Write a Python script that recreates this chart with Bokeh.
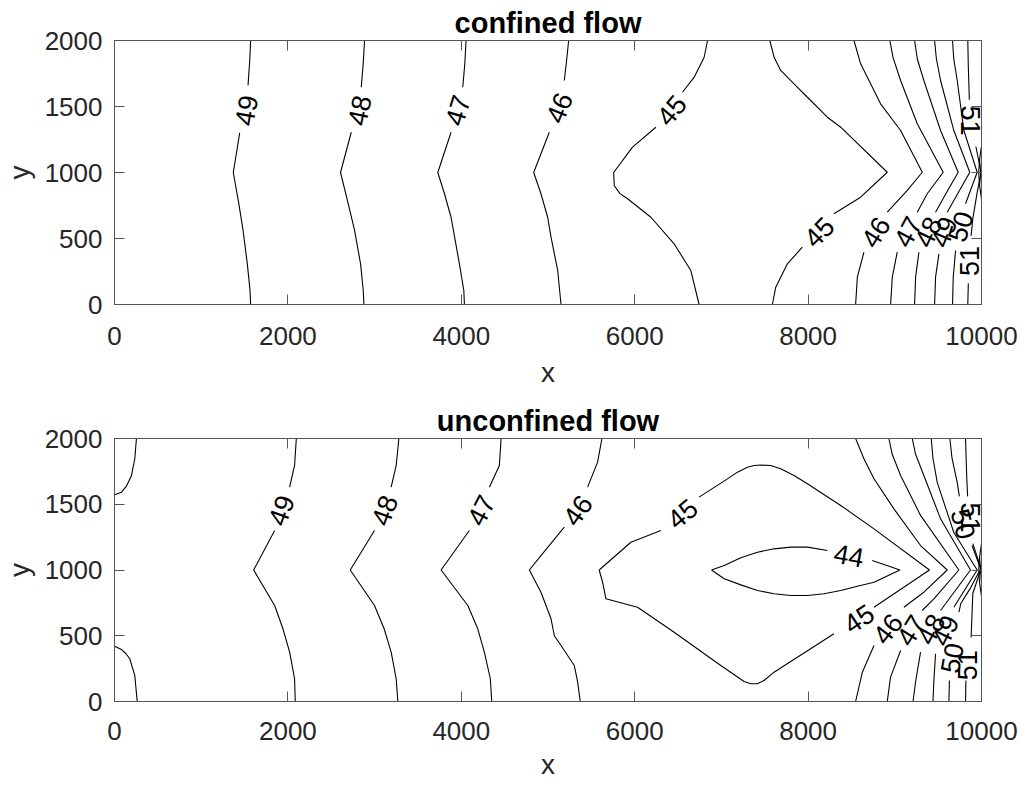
from bokeh.plotting import figure
from bokeh.models import Range1d, FixedTicker, LinearAxis
from bokeh.layouts import column
from bokeh.core.properties import value
from bokeh.embed import file_html
from bokeh.resources import INLINE

nan = float("nan")

x_ticks = [0, 2000, 4000, 6000, 8000, 10000]
y_ticks = [0, 500, 1000, 1500, 2000]

# ---------------- confined flow: contour lines (nan = gap for label) ----------------
conf_levels = [49, 48, 47, 46, 45, 45, 46, 47, 48, 49, 50, 51, 52, 53]
conf_xs = [
    [1570, 1560, 1540, nan, 1444, 1370, 1430, 1483, 1532, 1563, 1570],
    [2884, 2868, 2846, nan, 2731, 2607, 2690, 2769, 2838, 2869, 2877],
    [4055, 4040, 4017, nan, 3882, 3729, 3806, 3882, 3978, 4029, 4036],
    [5238, 5215, 5188, nan, 5015, 4835, 4919, 4996, 5035, 5112, 5150],
    [6840, 6801, 6686, 6551, nan, 6244, 5975, 5757, 5765, 5830, 5918, 6187, 6455, 6647, 6743],
    [7558, 7608, 7684, 7838, 7992, 8222, 8376, 8913, 8606, 8298, nan, 7934, 7761, 7627, 7588],
    [8529, 8606, 8760, 8836, 9067, 9317, 9144, 8913, nan, 8644, 8568, 8548],
    [8943, 8980, 9067, 9259, 9558, 9374, 9259, nan, 9028, 8971, 8952],
    [9228, 9260, 9335, 9528, 9731, 9566, 9470, nan, 9278, 9240, 9228],
    [9459, 9480, 9528, 9681, 9865, 9681, 9605, nan, 9509, 9470, 9459],
    [9666, 9680, 9720, 9797, 9950, 9816, nan, 9701, 9674, 9666],
    [9842, 9848, 9860, nan, 9935, 9995, 9950, 9900, 9880, nan, 9848, 9842],
    [10000, 9978, 9968, 9978, 10000],
    [10000, 9988, 10000],
]
conf_ys = [
    [2000, 1850, 1660, nan, 1300, 1000, 780, 561, 308, 106, 0],
    [2000, 1820, 1646, nan, 1305, 1000, 780, 561, 308, 106, 0],
    [2000, 1820, 1646, nan, 1305, 1000, 839, 661, 308, 106, 0],
    [2000, 1850, 1697, nan, 1305, 1000, 839, 661, 510, 258, 0],
    [2000, 1873, 1722, 1608, nan, 1343, 1192, 1000, 900, 840, 801, 661, 460, 258, 0],
    [2000, 1873, 1773, 1672, 1570, 1419, 1343, 1002, 813, 687, nan, 434, 308, 131, 0],
    [2000, 1823, 1621, 1520, 1318, 1002, 864, 699, nan, 396, 207, 0],
    [2000, 1870, 1697, 1369, 1002, 839, 699, nan, 396, 207, 0],
    [2000, 1860, 1697, 1318, 1002, 813, 699, nan, 396, 207, 0],
    [2000, 1860, 1697, 1318, 1002, 788, 699, nan, 384, 207, 0],
    [2000, 1860, 1697, 1318, 1002, 763, nan, 409, 207, 0],
    [2000, 1800, 1551, nan, 1197, 1000, 850, 650, 520, nan, 160, 0],
    [1200, 1100, 1000, 900, 800],
    [1100, 1000, 900],
]
conf_lab_x = [1521, 2826, 3959, 5130, 6425, 8126, 8779, 9150, 9385, 9565, 9758, 9860, 9873]
conf_lab_y = [1470, 1470, 1470, 1490, 1470, 548, 548, 550, 550, 550, 590, 330, 1394]
conf_lab_t = ["49", "48", "47", "46", "45", "45", "46", "47", "48", "49", "50", "51", "51"]
conf_lab_a = [80, 78, 73, 68, 50, 45, 58, 62, 65, 68, 72, 90, -90]

# ---------------- unconfined flow ----------------
unconf_levels = [50, 50, 49, 48, 47, 46, 45, 44, 46, 47, 48, 49, 50, 51, 52, 53]
unconf_xs = [
    [0, 81, 140, 196, 234, 253],
    [0, 81, 130, 176, 234, 262],
    [2097, 2077, 2020, nan, 1847, 1605, 1847, 1943, 2020, 2077, 2085],
    [3280, 3249, 3191, nan, 2999, 2719, 2999, 3110, 3191, 3249, 3268],
    [4459, 4439, 4324, nan, 4093, 3767, 4075, 4190, 4266, 4335, 4351],
    [5622, 5572, 5457, nan, 5188, 4919, 4785, 4919, 5035, 5073, 5150, 5303, 5342, 5372],
    [5590, 5956, 6302, nan, 6743, 7070, 7185, 7300, 7377, 7454, 7569, 7684, 7838, 7992, 8376,
     8760, 9400, 8760, nan, 8298, 7607, 7492, 7415, 7339, 7262, 6993, 6455, 6033, 5668, 5630, 5590],
    [6886, 7032, 7224, 7416, 7607, 7800, 7992, 8222, nan, 8740, 9059, 8760, 8568, 8376, 8183,
     7992, 7800, 7607, 7416, 7224, 7032, 6886],
    [8548, 8644, 8760, 8990, 9297, 9605, 9335, 9105, nan, 8760, 8626, 8548],
    [8932, 8970, 9067, 9297, 9739, 9451, 9316, nan, 9067, 8951, 8913],
    [9201, 9240, 9335, 9528, 9873, 9528, nan, 9297, 9240, 9210],
    [9420, 9440, 9490, 9681, 9950, 9681, nan, 9470, 9450, 9440],
    [9635, 9660, 9720, 9745, nan, 9892, 9990, 9870, 9760, 9740, nan, 9630, 9624],
    [9816, 9830, 9840, nan, 9900, 9995, 9900, 9880, nan, 9820, 9816],
    [10000, 9978, 9968, 9978, 10000],
    [10000, 9988, 10000],
]
unconf_ys = [
    [1572, 1592, 1640, 1719, 1846, 2000],
    [421, 395, 365, 325, 198, 0],
    [2000, 1795, 1630, nan, 1300, 1000, 730, 553, 375, 173, 0],
    [2000, 1795, 1630, nan, 1300, 1000, 730, 553, 375, 173, 0],
    [2000, 1795, 1630, nan, 1300, 1000, 730, 553, 375, 173, 0],
    [2000, 1820, 1630, nan, 1326, 1110, 1000, 831, 629, 500, 426, 274, 147, 0],
    [1000, 1211, 1300, nan, 1554, 1693, 1744, 1782, 1795, 1798, 1795, 1770, 1719, 1656, 1491,
     1313, 1000, 717, nan, 515, 223, 160, 135, 135, 152, 274, 527, 717, 781, 907, 1000],
    [1000, 1034, 1093, 1135, 1161, 1174, 1174, 1148, nan, 1072, 1000, 907, 877, 844, 819,
     806, 806, 819, 844, 887, 933, 1000],
    [2000, 1846, 1694, 1465, 1186, 1000, 831, 717, nan, 426, 223, 0],
    [2000, 1880, 1719, 1415, 1000, 781, 692, nan, 388, 185, 0],
    [2000, 1880, 1719, 1389, 1000, 692, nan, 375, 150, 0],
    [2000, 1850, 1665, 1285, 1000, 717, nan, 363, 150, 0],
    [2000, 1850, 1665, 1560, nan, 1184, 1010, 860, 743, 680, nan, 160, 0],
    [2000, 1700, 1560, nan, 1200, 1010, 821, 487, nan, 160, 0],
    [1200, 1100, 1000, 900, 800],
    [1100, 1000, 900],
]
unconf_lab_x = [1924, 3114, 4228, 5342, 6551, 8587, 8471, 8920, 9185, 9415, 9580, 9660, 9840, 9873, 9790]
unconf_lab_y = [1453, 1453, 1453, 1453, 1427, 629, 1110, 553, 540, 550, 540, 330, 275, 1400, 1350]
unconf_lab_t = ["49", "48", "47", "46", "45", "45", "44", "46", "47", "48", "49", "50", "51", "51", "50"]
unconf_lab_a = [70, 70, 63, 55, 40, 34, -10, 52, 58, 62, 64, 80, 90, -90, -75]

FONT = "Liberation Sans"
AX_COLOR = "#555555"
TXT_COLOR = "#262626"


def make_fig(title, xs, ys, lx, ly, lt, la, height, border_top, border_bottom,
             tick_standoff, label_standoff):
    p = figure(width=1020, height=height, x_range=Range1d(0, 10000), y_range=Range1d(0, 2000),
               output_backend="svg", toolbar_location=None,
               min_border_left=113, min_border_right=39,
               min_border_top=border_top, min_border_bottom=border_bottom)
    p.grid.visible = False
    p.outline_line_color = AX_COLOR
    p.background_fill_color = "white"
    p.border_fill_color = "white"

    for ax, ticks in ((p.xaxis[0], x_ticks), (p.yaxis[0], y_ticks)):
        ax.ticker = FixedTicker(ticks=ticks)
        ax.major_tick_in = 10
        ax.major_tick_out = 0
        ax.minor_tick_line_color = None
        ax.axis_line_color = AX_COLOR
        ax.major_tick_line_color = AX_COLOR
        ax.major_label_text_font = FONT
        ax.major_label_text_font_size = "26px"
        ax.major_label_text_color = TXT_COLOR
        ax.axis_label_text_font = FONT
        ax.axis_label_text_font_size = "28px"
        ax.axis_label_text_font_style = "normal"
        ax.axis_label_text_color = TXT_COLOR
    p.xaxis.axis_label = "x"
    p.yaxis.axis_label = "y"
    p.xaxis.major_label_standoff = tick_standoff
    p.xaxis.axis_label_standoff = label_standoff
    p.yaxis.major_label_standoff = 12
    p.yaxis.axis_label_standoff = 7

    for loc, ticks in (("above", x_ticks), ("right", y_ticks)):
        ax = LinearAxis(ticker=FixedTicker(ticks=ticks))
        ax.major_tick_in = 10
        ax.major_tick_out = 0
        ax.minor_tick_line_color = None
        ax.axis_line_color = AX_COLOR
        ax.major_tick_line_color = AX_COLOR
        ax.major_label_text_font_size = "0px"
        ax.major_label_standoff = 0
        p.add_layout(ax, loc)

    p.multi_line(xs=xs, ys=ys, line_color="black", line_width=1.1)
    p.text(x=lx, y=ly, text=lt, angle=la, angle_units="deg",
           text_align="center", text_baseline="middle",
           text_font=value(FONT), text_font_size=value("27px"), text_color="black")

    p.title.text = title
    p.title.align = "center"
    p.title.text_font = FONT
    p.title.text_font_size = "29px"
    p.title.text_font_style = "bold"
    p.title.text_color = "black"
    p.title.standoff = 3
    return p


p1 = make_fig("confined flow", conf_xs, conf_ys, conf_lab_x, conf_lab_y, conf_lab_t, conf_lab_a,
              height=400, border_top=40, border_bottom=96, tick_standoff=22, label_standoff=9)
p2 = make_fig("unconfined flow", unconf_xs, unconf_ys, unconf_lab_x, unconf_lab_y, unconf_lab_t,
              unconf_lab_a, height=384, border_top=38, border_bottom=83, tick_standoff=20,
              label_standoff=6)

layout = column(p1, p2)
open("out.html", "w").write(file_html(layout, INLINE))
